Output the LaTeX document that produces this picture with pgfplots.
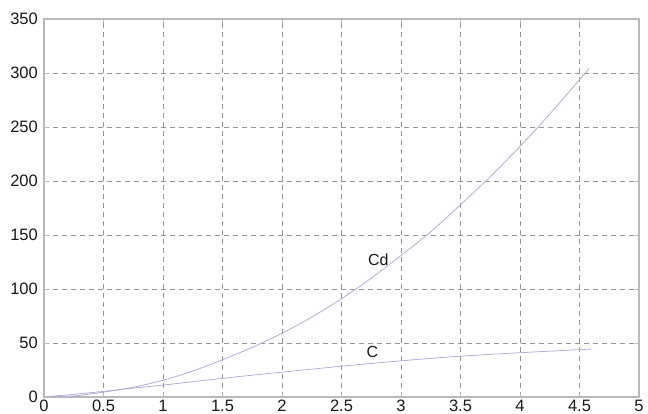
\documentclass[border=0pt]{standalone}
\usepackage{pgfplots}
\pgfplotsset{compat=1.18}
\usepackage{fontspec}
\setmainfont{Liberation Sans}
\definecolor{curve}{RGB}{176,176,214}
\definecolor{gridc}{RGB}{150,150,150}
\definecolor{boxc}{RGB}{185,185,185}
\definecolor{txt}{RGB}{25,25,25}
\begin{document}
\begin{tikzpicture}
\begin{axis}[
  name=ax,
  scale only axis,
  width=595pt, height=378pt,
  xmin=0, xmax=5, ymin=0, ymax=350,
  xtick={0,0.5,...,5}, ytick={0,50,...,350},
  xticklabels={0,0.5,1,1.5,2,2.5,3,3.5,4,4.5,5},
  grid=major,
  major grid style={gridc, dashed, line width=0.7pt, dash pattern=on 5pt off 4pt},
  axis line style={boxc, line width=1.2pt},
  major tick length=4pt,
  tick style={boxc, line width=0.8pt},
  tick align=inside,
  tick label style={font=\fontsize{16.5}{18}\selectfont, text=txt},
  /pgf/number format/assume math mode=true,
  xticklabel style={yshift=-2pt, inner sep=1pt},
  yticklabel style={xshift=-5pt, inner sep=1pt},
]
\addplot[curve, line width=0.8pt, smooth] coordinates {
(0,0) (0.25,1) (0.5,4.5) (0.75,9) (1,15.5) (1.25,24) (1.5,34.5) (1.75,46) (2,59) (2.25,74) (2.5,91) (2.75,110) (3,131) (3.25,153) (3.5,178) (3.75,204) (4,232) (4.25,262) (4.58,304)
};
\addplot[curve, line width=0.8pt, smooth] coordinates {
(0,0) (0.25,2.5) (0.5,5.2) (0.75,8.2) (1,11) (1.25,14.2) (1.5,17.2) (1.75,20.2) (2,23) (2.5,28.5) (3,33.5) (3.5,37.8) (4,41) (4.6,44.4)
};
\node[font=\fontsize{16}{18}\selectfont, text=txt] at (axis cs:2.81,127.5) {Cd};
\node[font=\fontsize{16}{18}\selectfont, text=txt] at (axis cs:2.76,42) {C};
\end{axis}
\pgfresetboundingbox
\path[use as bounding box] ([shift={(-44pt,-17pt)}]ax.south west) rectangle ++(648pt,414pt);
\end{tikzpicture}
\end{document}
